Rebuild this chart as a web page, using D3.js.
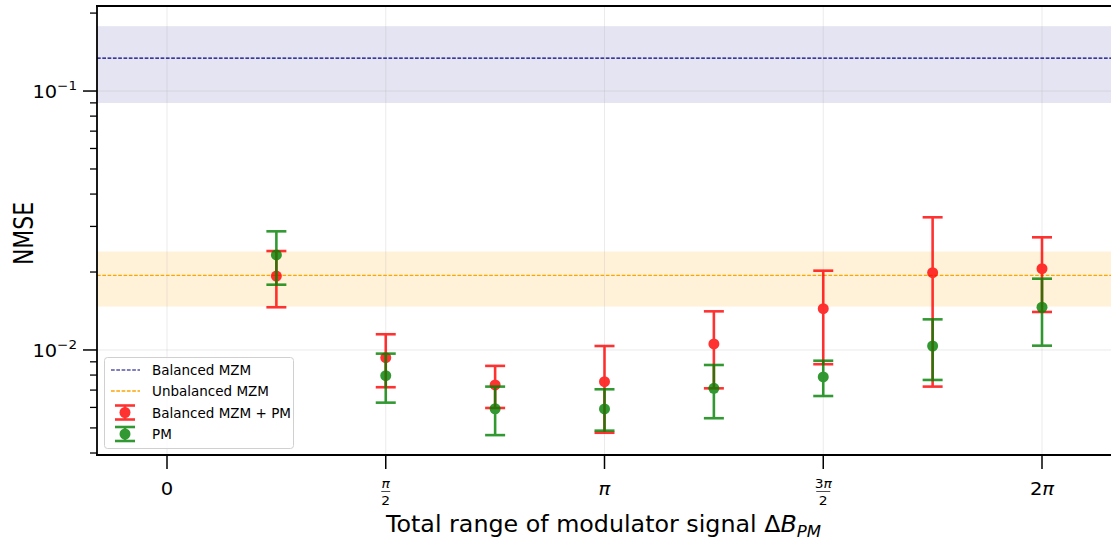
<!DOCTYPE html>
<html><head><meta charset="utf-8">
<script src="https://cdn.jsdelivr.net/npm/d3@7"></script>
<style>body{margin:0;background:#fff}svg{display:block}text{font-family:"DejaVu Sans",sans-serif}</style>
</head><body><svg id="c" width="1111" height="543"></svg>
<script>
// data (x in units of pi)
const xPos = [0.25, 0.5, 0.75, 1.0, 1.25, 1.5, 1.75, 2.0];
const redMean  = [0.0193, 0.00934, 0.00733, 0.00754, 0.01055, 0.01443, 0.01988, 0.0206];
const redLow   = [0.01462, 0.00718, 0.00597, 0.00479, 0.00711, 0.00881, 0.00722, 0.01402];
const redHigh  = [0.0241, 0.0115, 0.00868, 0.01036, 0.0141, 0.02024, 0.03254, 0.02723];
const greenMean= [0.02328, 0.00796, 0.00593, 0.00592, 0.00711, 0.00787, 0.01036, 0.01462];
const greenLow = [0.01787, 0.00626, 0.00469, 0.00488, 0.00545, 0.00664, 0.00766, 0.01039];
const greenHigh= [0.02872, 0.00968, 0.00722, 0.00705, 0.00875, 0.00909, 0.01313, 0.01885];
const balancedMZM = [0.134, 0.0899, 0.178];   // mean, low, high
const unbalancedMZM = [0.0194, 0.0147, 0.0240];
const xTickVals = [0, 0.5, 1, 1.5, 2];
const yMajor = [0.01, 0.1];
const legendLabels = ["Balanced MZM", "Unbalanced MZM", "Balanced MZM + PM", "PM"];

const svg = d3.select("#c");
const L = 97, R = 1112, T = 6, B = 455;
const x = d3.scaleLinear().domain([-0.16, 2.16]).range([L, R]);
const y = d3.scaleLog().domain([0.00393, 0.213]).range([B, T]);

svg.append("defs").append("clipPath").attr("id","cp").append("rect")
  .attr("x", L).attr("y", T).attr("width", R-L).attr("height", B-T);
const plot = svg.append("g").attr("clip-path","url(#cp)");

// bands
function band(v, col, op) {
  plot.append("rect").attr("x", L).attr("width", R-L)
    .attr("y", y(v[2])).attr("height", y(v[1]) - y(v[2]))
    .attr("fill", col).attr("fill-opacity", op);
}
band(balancedMZM, "#000080", 0.105);
band(unbalancedMZM, "#ffa500", 0.15);

// grid
plot.selectAll(".gx").data(xTickVals).join("line")
  .attr("x1", d=>x(d)).attr("x2", d=>x(d)).attr("y1", T).attr("y2", B)
  .attr("stroke", "#b0b0b0").attr("stroke-opacity", 0.25).attr("stroke-width", 1);
plot.selectAll(".gy").data(yMajor).join("line")
  .attr("x1", L).attr("x2", R).attr("y1", d=>y(d)).attr("y2", d=>y(d))
  .attr("stroke", "#b0b0b0").attr("stroke-opacity", 0.25).attr("stroke-width", 1);

// mean lines
plot.append("line").attr("x1", L).attr("x2", R).attr("y1", y(balancedMZM[0])).attr("y2", y(balancedMZM[0]))
  .attr("stroke", "#000080").attr("stroke-width", 1.2).attr("stroke-dasharray", "3.7,1.6");
plot.append("line").attr("x1", L).attr("x2", R).attr("y1", y(unbalancedMZM[0])).attr("y2", y(unbalancedMZM[0]))
  .attr("stroke", "#ffa500").attr("stroke-width", 1.3).attr("stroke-dasharray", "3.7,1.6");

// error bars
function errs(mean, lo, hi, col) {
  const g = plot.append("g").attr("opacity", 0.8);
  xPos.forEach((xv, i) => {
    const cx = x(xv);
    const gg = g.append("g");
    gg.append("line").attr("x1", cx).attr("x2", cx).attr("y1", y(lo[i])).attr("y2", y(hi[i]))
      .attr("stroke", col).attr("stroke-width", 2.6);
    [lo[i], hi[i]].forEach(v => gg.append("line").attr("x1", cx-10).attr("x2", cx+10)
      .attr("y1", y(v)).attr("y2", y(v)).attr("stroke", col).attr("stroke-width", 2.6));
    gg.append("circle").attr("cx", cx).attr("cy", y(mean[i])).attr("r", 5.5).attr("fill", col);
  });
}
errs(redMean, redLow, redHigh, "#ff0000");
errs(greenMean, greenLow, greenHigh, "#008000");

// spines
const ax = svg.append("g").attr("stroke", "#000").attr("fill","none");
ax.append("line").attr("x1", L).attr("x2", L).attr("y1", T).attr("y2", B).attr("stroke-width", 1.8);
ax.append("line").attr("x1", L-1).attr("x2", R).attr("y1", B).attr("y2", B).attr("stroke-width", 1.8);
ax.append("line").attr("x1", L-1).attr("x2", R).attr("y1", T).attr("y2", T).attr("stroke-width", 1.8);
ax.append("line").attr("x1", R).attr("x2", R).attr("y1", T).attr("y2", B).attr("stroke-width", 1.8);

// y ticks
const minor = [];
[0.001, 0.01, 0.1].forEach(d => { for (let k=2;k<=9;k++){ const v=d*k; if (v>=0.00393 && v<=0.213) minor.push(v);} });
svg.selectAll(".ymin").data(minor).join("line")
  .attr("x1", L-7).attr("x2", L).attr("y1", d=>y(d)).attr("y2", d=>y(d)).attr("stroke","#000").attr("stroke-width",1.3);
svg.selectAll(".ymaj").data(yMajor).join("line")
  .attr("x1", L-14).attr("x2", L).attr("y1", d=>y(d)).attr("y2", d=>y(d)).attr("stroke","#000").attr("stroke-width",1.5);
yMajor.forEach(v => {
  const t = svg.append("text").attr("transform", `translate(${L-20},${y(v)+7}) scale(1.08,1)`)
    .attr("text-anchor","end").attr("font-size", 18).attr("fill","#000");
  t.append("tspan").text("10");
  t.append("tspan").attr("dy", -8).attr("font-size", 12.5).text("\u2212" + Math.round(-Math.log10(v)));
});

// x ticks
svg.selectAll(".xt").data(xTickVals).join("line")
  .attr("x1", d=>x(d)).attr("x2", d=>x(d)).attr("y1", B).attr("y2", B+14).attr("stroke","#000").attr("stroke-width",1.5);
function stext(cx, cy, size) {
  return svg.append("text").attr("transform", `translate(${cx},${cy}) scale(1.15,1)`)
    .attr("text-anchor","middle").attr("font-size", size).attr("fill","#000");
}
function xlabel(v) {
  const cx = x(v);
  if (v === 0) {
    stext(cx, 495, 17).text("0");
  } else if (v === 1) {
    stext(cx, 495, 17).attr("font-style","italic").text("\u03c0");
  } else if (v === 2) {
    const t = stext(cx, 495, 17);
    t.append("tspan").text("2"); t.append("tspan").attr("font-style","italic").text("\u03c0");
  } else {
    const t = stext(cx, 488, 12);
    if (v === 1.5) t.append("tspan").text("3");
    t.append("tspan").attr("font-style","italic").text("\u03c0");
    svg.append("line").attr("x1", cx-(v===1.5?7:4.5)).attr("x2", cx+(v===1.5?7:4.5)).attr("y1", 491.5).attr("y2", 491.5)
      .attr("stroke","#000").attr("stroke-width",0.7);
    stext(cx, 504.5, 12).text("2");
  }
}
xTickVals.forEach(xlabel);

// axis labels
const xl = svg.append("text").attr("x", 386).attr("y", 532).attr("font-size",23)
  .attr("textLength", 435).attr("lengthAdjust","spacingAndGlyphs");
xl.append("tspan").text("Total range of modulator signal \u0394");
xl.append("tspan").attr("font-style","italic").text("B");
xl.append("tspan").attr("font-style","italic").attr("font-size",16).attr("dy",5).text("PM");
svg.append("text").attr("transform","translate(32.5,233.5) rotate(-90)").attr("text-anchor","middle")
  .attr("font-size",26).attr("textLength",63).attr("lengthAdjust","spacingAndGlyphs").text("NMSE");

// legend
const lg = svg.append("g");
lg.append("rect").attr("x",104.5).attr("y",357.5).attr("width",189).attr("height",91).attr("rx",3)
  .attr("fill","#fff").attr("fill-opacity",0.8).attr("stroke","#d0d0d0");
const rows = [370, 391, 412.5, 434];
lg.append("line").attr("x1",111).attr("x2",140).attr("y1",rows[0]).attr("y2",rows[0]).attr("stroke","#000080").attr("stroke-width",1.2).attr("stroke-dasharray","3.7,1.6");
lg.append("line").attr("x1",111).attr("x2",140).attr("y1",rows[1]).attr("y2",rows[1]).attr("stroke","#ffa500").attr("stroke-width",1.3).attr("stroke-dasharray","3.7,1.6");
[["#ff0000", rows[2]], ["#008000", rows[3]]].forEach(([c, ry]) => {
  const g = lg.append("g").attr("opacity",0.8);
  g.append("line").attr("x1",125).attr("x2",125).attr("y1",ry-7).attr("y2",ry+7).attr("stroke",c).attr("stroke-width",2.6);
  g.append("line").attr("x1",115).attr("x2",135).attr("y1",ry-7).attr("y2",ry-7).attr("stroke",c).attr("stroke-width",2.6);
  g.append("line").attr("x1",115).attr("x2",135).attr("y1",ry+7).attr("y2",ry+7).attr("stroke",c).attr("stroke-width",2.6);
  g.append("circle").attr("cx",125).attr("cy",ry).attr("r",5.5).attr("fill",c);
});
lg.selectAll(".lt").data(legendLabels).join("text").attr("x",152).attr("y",(d,i)=>rows[i]+5)
  .attr("font-size",13.5).attr("fill","#000").text(d=>d);
</script></body></html>
